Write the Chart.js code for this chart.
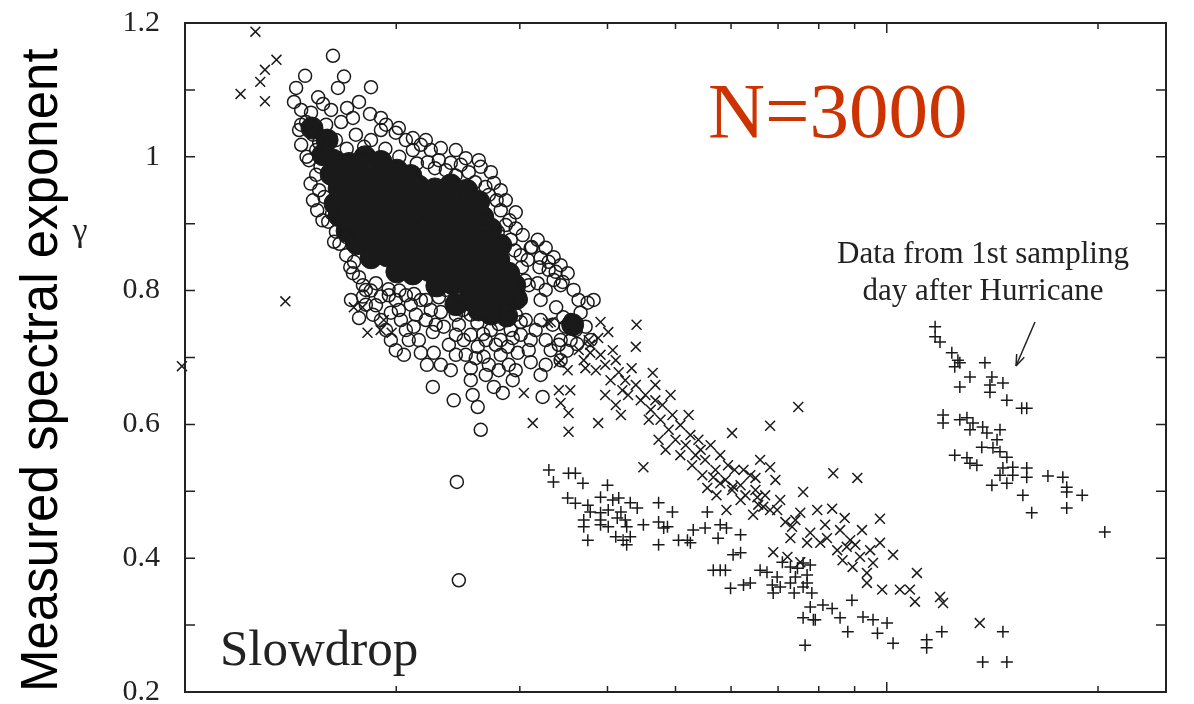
<!DOCTYPE html>
<html>
<head>
<meta charset="utf-8">
<script src="https://cdn.jsdelivr.net/npm/chart.js@4.4.1/dist/chart.umd.min.js"></script>
<style>
  body { margin: 0; background: #fff; }
  #wrap { width: 1194px; height: 704px; position: relative; }
</style>
</head>
<body>
<div id="wrap"><canvas id="scatter"></canvas></div>
<script>
// open circles (x on log axis, gamma)
var circles = [
  [1.625,1.151],[1.483,1.121],[1.685,1.120],[1.652,1.103],[1.841,1.104],[1.440,1.103],[1.770,1.082],[1.835,1.064],
  [1.430,1.082],[1.548,1.089],[1.464,1.070],[1.512,1.066],[1.573,1.079],[1.615,1.070],[1.702,1.073],[1.735,1.058],
  [1.669,1.052],[1.488,1.052],[1.454,1.040],[1.522,1.033],[1.464,1.018],[1.553,1.021],[1.502,0.995],[1.538,0.973],
  [1.553,0.950],[1.522,0.935],[1.543,0.920],[1.600,0.903],[1.641,0.888],[1.631,0.873],[1.697,0.853],[1.741,0.843],
  [1.735,0.826],[1.793,0.808],[1.902,0.791],[1.793,0.791],[1.871,0.811],[1.934,1.048],[1.997,1.036],[1.902,1.040],
  [2.064,1.025],[2.168,1.018],[2.240,1.010],[2.218,0.992],[2.300,0.995],[2.392,0.991],[2.472,0.988],[2.537,0.977],
  [2.639,0.985],[2.755,0.961],[2.710,0.943],[2.818,0.920],[2.865,0.898],[2.960,0.893],[2.912,0.876],[3.009,0.853],
  [3.079,0.846],[3.181,0.876],[3.266,0.864],[3.352,0.850],[3.430,0.838],[3.510,0.826],[3.298,0.831],[3.579,0.801],
  [3.430,0.808],[3.638,0.786],[3.747,0.782],[3.662,0.767],[3.544,0.756],[3.603,0.741],[3.487,0.746],[3.723,0.746],
  [3.544,0.726],[3.784,0.726],[3.430,0.726],[3.822,0.786],[3.266,0.801],[3.352,0.816],[3.212,0.786],[3.181,0.811],
  [1.965,0.767],[2.031,0.756],[2.118,0.746],[2.204,0.756],[2.337,0.746],[2.432,0.764],[2.496,0.726],[2.613,0.716],
  [2.664,0.701],[2.773,0.719],[2.883,0.716],[2.979,0.707],[3.109,0.726],[3.059,0.756],[3.212,0.756],[1.965,0.726],
  [2.168,0.707],[2.262,0.707],[2.392,0.681],[2.255,0.656],[2.415,0.636],[2.570,0.644],[2.613,0.626],[2.755,0.656],
  [2.837,0.647],[3.233,0.641],[2.639,0.592],[2.440,0.514],[2.456,0.367],[1.810,0.779],[1.853,0.764],[1.724,0.786],
  [1.770,0.759],[1.902,0.756],[1.997,0.786],[2.098,0.779],[2.240,0.771],[2.353,0.801],[2.554,0.764],[2.728,0.741],
  [2.912,0.741],[3.009,0.734],[2.800,0.681],[2.710,0.689],[3.320,0.711],[3.430,0.696],[3.266,0.689],[2.554,0.666],
  [2.315,0.689],[2.084,0.726],[2.112,1.010],[2.353,0.980],[2.692,0.906],[2.791,0.888],[3.089,0.808],[3.009,0.786],
  [2.818,0.704],[2.960,0.681],[2.168,0.786],[2.277,0.749],[2.432,0.734],[2.512,0.704],[2.865,0.771],[1.934,0.741],
  [2.051,0.704],[2.960,0.764],[1.589,1.048],[1.538,1.010],[1.641,1.025],[1.752,1.033],[1.841,1.025],[1.464,1.048],
  [1.49,1.000],[1.51,0.960],[1.56,0.985],[1.58,0.940],[1.57,0.905],[1.62,0.915],[1.66,0.870],[1.70,0.880],
  [1.72,0.835],[1.77,0.820],[1.84,0.800],[1.95,0.802],[2.02,0.800],[2.12,0.795],[2.30,0.790],[2.47,0.790],
  [2.61,0.752],[2.66,0.735],[2.80,0.750],[2.98,0.790],[3.05,0.815],[3.02,0.835],[2.95,0.860],[2.90,0.905],
  [2.78,0.935],[2.68,0.955],[2.59,0.962],[2.43,0.972],[2.27,0.983],[2.14,0.990],[2.02,1.000],[1.93,1.012],
  [1.80,1.015],[1.70,1.012],[3.12,0.865],[3.20,0.835],[3.38,0.775],[3.46,0.760],[3.62,0.720],[3.50,0.710],
  [1.81,0.801],[1.871,0.778],[1.952,0.793],[2.017,0.771],[2.064,0.793],[2.133,0.764],[2.204,0.786],[2.255,0.738],
  [2.315,0.768],[2.377,0.719],[2.456,0.749],[2.488,0.771],[2.554,0.734],[2.596,0.699],[2.683,0.726],[2.746,0.759],
  [2.818,0.726],[2.893,0.689],[2.931,0.729],[3.009,0.753],[3.089,0.711],[3.160,0.741],[3.266,0.726],[3.341,0.749],
  [3.408,0.719],[2.064,0.741],[2.154,0.726],[1.997,0.711],[2.212,0.689],[2.432,0.704],[2.554,0.684],[2.683,0.674],
  [2.931,0.666],[3.109,0.693],[3.212,0.674],
  [1.902,1.058],[2.017,1.043],[2.112,1.028],[2.204,1.025],[2.315,1.013],[2.432,1.010],[2.512,0.998],[2.622,0.995],
  [2.728,0.977],[2.818,0.950],[2.865,0.935],[2.960,0.917],[3.029,0.883],[3.109,0.864],[3.212,0.849],[3.298,0.843],
  [3.375,0.828],[3.453,0.813]
];

// circles in the saturated core of the cluster
var coreCircles = [
  [1.625,0.995],[1.713,0.990],[1.805,1.000],[1.902,0.993],[2.004,0.980],
  [1.615,0.974],[1.702,0.978],[1.793,0.970],[1.890,0.976],[1.991,0.969],[2.098,0.972],
  [1.658,0.953],[1.747,0.957],[1.841,0.950],[1.940,0.955],[2.044,0.951],[2.154,0.956],[2.270,0.952],[2.392,0.958],[2.521,0.950],
  [1.636,0.930],[1.724,0.934],[1.817,0.929],[1.915,0.936],[2.017,0.931],[2.126,0.935],[2.240,0.930],[2.361,0.934],[2.488,0.929],[2.622,0.933],
  [1.658,0.912],[1.747,0.908],[1.841,0.914],[1.940,0.910],[2.044,0.915],[2.154,0.909],[2.270,0.913],[2.392,0.908],[2.521,0.914],[2.657,0.910],
  [1.702,0.889],[1.793,0.893],[1.890,0.888],[1.991,0.892],[2.098,0.887],[2.212,0.893],[2.330,0.890],[2.456,0.894],[2.588,0.888],[2.728,0.892],
  [1.758,0.870],[1.853,0.866],[1.952,0.872],[2.057,0.868],[2.168,0.873],[2.285,0.867],[2.408,0.871],[2.537,0.866],[2.674,0.872],[2.818,0.868],
  [1.841,0.849],[1.940,0.852],[2.044,0.846],[2.154,0.851],[2.270,0.847],[2.392,0.852],[2.521,0.848],[2.657,0.851],[2.800,0.846],
  [2.004,0.828],[2.112,0.825],[2.226,0.830],[2.346,0.826],[2.472,0.831],[2.605,0.827],[2.746,0.830],[2.893,0.826],
  [2.285,0.807],[2.408,0.810],[2.537,0.805],[2.674,0.809],[2.818,0.804],[2.950,0.808],
  [2.554,0.786],[2.692,0.789],[2.837,0.784],[2.965,0.788],
  [2.728,0.765],[2.874,0.762],
  [1.517,1.043],[1.594,1.025],[1.573,1.003],[3.568,0.749],[2.432,0.779],[2.622,0.771]
];

// x markers
var crosses = [
  [1.26,1.187],[1.35,1.145],[1.30,1.130],[1.28,1.112],[1.20,1.094],[1.30,1.083],[0.99,0.687],[1.39,0.784],
  [1.74,0.775],[1.79,0.775],[1.82,0.737],[1.90,0.741],[1.92,0.756],[1.97,0.737],
  [3.29,0.752],[3.41,0.692],[3.51,0.681],[3.04,0.647],[3.41,0.651],[3.54,0.651],[3.32,0.753],[3.54,0.738],
  [3.91,0.753],[4.01,0.738],[4.40,0.749],[4.39,0.716],[3.52,0.617],[3.52,0.589],[3.88,0.602],[3.43,0.696],
  [3.70,0.696],[3.78,0.707],[4.64,0.677],[3.43,0.632],[3.13,0.602],
  [3.64,0.711],[3.72,0.684],[3.78,0.719],[3.85,0.681],[3.91,0.704],[3.97,0.689],[4.04,0.666],[4.11,0.696],
  [4.15,0.678],[4.20,0.651],[4.24,0.666],[4.28,0.644],[4.33,0.684],[4.39,0.659],[4.46,0.636],[3.76,0.726],
  [3.88,0.729],[4.07,0.711],[3.97,0.644],[4.11,0.629],[4.18,0.614],
  [4.53,0.644],[4.61,0.622],[4.68,0.636],[4.76,0.607],[4.79,0.629],[4.89,0.592],[4.95,0.614],[5.00,0.577],
  [5.08,0.599],[5.17,0.569],[5.25,0.584],[5.34,0.554],[5.39,0.577],[4.58,0.607],[4.73,0.577],[4.84,0.562],
  [5.08,0.554],[5.28,0.539],[4.50,0.536],[4.68,0.659],[4.92,0.644],[5.22,0.614],
  [5.43,0.562],[5.51,0.547],[5.61,0.569],[5.70,0.532],[5.79,0.554],[5.89,0.517],[5.94,0.539],[6.02,0.502],
  [6.07,0.532],[6.19,0.509],[6.29,0.494],[6.39,0.524],[6.50,0.502],[6.56,0.480],[5.66,0.521],[5.55,0.505],
  [5.79,0.512],[6.04,0.507],[6.25,0.532],[6.50,0.520],[6.82,0.536],[6.02,0.587],[6.60,0.547],[5.91,0.472],
  [6.19,0.487],[6.45,0.465],[6.67,0.477],[6.54,0.491],[5.46,0.524],[5.72,0.494],
  [6.71,0.494],[6.82,0.472],[6.98,0.472],[7.05,0.487],[7.17,0.454],[7.29,0.430],[7.33,0.447],[7.53,0.468],
  [7.60,0.499],[7.70,0.423],[7.78,0.438],[7.96,0.472],[6.89,0.409],[7.22,0.402],[7.53,0.394],[7.48,0.626],
  [6.82,0.598],[6.94,0.517],[7.41,0.457],
  [8.04,0.423],[8.22,0.430],[8.36,0.474],[8.50,0.412],[8.65,0.397],[8.71,0.460],[8.77,0.417],[8.94,0.387],
  [9.16,0.402],[9.22,0.442],[9.37,0.378],[9.37,0.363],[9.56,0.393],[9.78,0.459],[9.78,0.423],[8.39,0.527],
  [9.08,0.520],[10.21,0.405],[8.17,0.450],[8.87,0.427],[8.58,0.442],[9.02,0.420],[9.47,0.412],
  [9.85,0.353],[10.44,0.353],[10.79,0.353],[10.97,0.335],[11.04,0.378],[11.91,0.342],[12.03,0.333],[13.57,0.303]
];

// + markers
var pluses = [
  [3.30,0.532],[3.35,0.514],[3.52,0.527],[3.60,0.527],[3.69,0.512],[4.00,0.509],[3.51,0.490],[3.60,0.482],
  [3.75,0.479],[3.91,0.491],[4.07,0.487],[4.15,0.490],[3.78,0.469],[3.91,0.468],[4.01,0.472],[4.18,0.469],
  [4.31,0.483],[4.41,0.475],[3.70,0.457],[3.91,0.457],[4.13,0.460],[4.24,0.457],[3.70,0.447],[3.91,0.450],
  [4.01,0.447],[4.26,0.447],[4.50,0.450],[4.73,0.454],[4.87,0.447],[3.75,0.427],[4.11,0.432],[4.21,0.427],
  [4.31,0.432],[4.26,0.420],[4.73,0.420],[4.73,0.483],[4.95,0.469],[5.55,0.469],[4.81,0.445],[5.05,0.427],
  [5.20,0.427],[5.25,0.423],[5.30,0.442],[5.51,0.445],[5.79,0.450],[5.91,0.445],[6.19,0.435],[5.75,0.430],
  [6.04,0.405],[6.19,0.408],[5.66,0.382],[5.79,0.382],[5.89,0.382],[5.99,0.355],[6.25,0.360],[6.39,0.363],
  [6.75,0.379],[6.98,0.372],[7.05,0.357],[7.29,0.363],[7.70,0.375],[6.89,0.348],[7.38,0.348],[7.60,0.357],
  [7.78,0.327],[7.60,0.311],[7.86,0.308],[7.65,0.270],[7.10,0.394],[7.29,0.387],[7.46,0.385],[7.60,0.393],
  [6.60,0.382],[6.87,0.360],[7.41,0.372],[7.78,0.390],[7.70,0.363],[7.82,0.348],[8.11,0.330],[8.36,0.325],
  [8.58,0.311],[8.92,0.337],[7.91,0.308],[8.80,0.290],[9.25,0.312],[9.56,0.308],[10.01,0.303],[9.70,0.288],
  [10.21,0.273],[11.40,0.278],[11.40,0.266],[11.98,0.290],[13.70,0.245],[14.64,0.290],[14.83,0.245],
  [11.72,0.746],[11.72,0.731],[11.91,0.723],[12.38,0.707],[12.63,0.696],[12.71,0.692],[12.50,0.686],[13.14,0.671],
  [12.71,0.656],[13.80,0.692],[14.12,0.671],[14.03,0.659],[14.64,0.662],[14.03,0.648],[14.83,0.636],[15.57,0.624],
  [15.83,0.624],[12.03,0.614],[12.03,0.602],[12.71,0.607],[13.01,0.610],[13.27,0.602],[13.14,0.592],[13.70,0.596],
  [13.89,0.587],[14.50,0.592],[14.36,0.577],[13.66,0.566],[14.17,0.565],[14.50,0.559],[14.83,0.551],[12.50,0.554],
  [13.01,0.550],[13.14,0.542],[13.44,0.539],[14.64,0.535],[15.12,0.536],[14.50,0.524],[15.83,0.535],[15.12,0.524],
  [15.83,0.521],[16.97,0.523],[17.82,0.521],[14.12,0.509],[14.83,0.512],[18.05,0.506],[18.05,0.499],[18.99,0.494],
  [15.63,0.494],[16.09,0.468],[18.05,0.475],[20.45,0.439]
];

var xTickValues = [2, 3, 4, 5, 6, 7, 8, 9, 10, 20];
var yMinorTicks = [0.3, 0.4, 0.5, 0.6, 0.7, 0.8, 0.9, 1.0, 1.1];

function toPoints(arr) {
    return arr.map(function(p) { return {x: p[0], y: p[1]}; });
}

var ink = '#1a1a1a';

// frame, inward ticks and the text annotations
var frameAndText = {
    id: 'frameAndText',
    afterDraw: function(chart) {
        var ctx = chart.ctx;
        var a = chart.chartArea;
        var xs = chart.scales.x, ys = chart.scales.y;
        ctx.save();
        ctx.strokeStyle = '#222';
        ctx.lineWidth = 1.5;
        ctx.beginPath();
        yMinorTicks.forEach(function(v) {
            var py = ys.getPixelForValue(v);
            ctx.moveTo(a.left, py); ctx.lineTo(a.left + 10, py);
            ctx.moveTo(a.right, py); ctx.lineTo(a.right - 10, py);
        });
        xTickValues.forEach(function(v) {
            var px = xs.getPixelForValue(v);
            var len = v === 10 ? 10 : 6;
            ctx.moveTo(px, a.bottom); ctx.lineTo(px, a.bottom - len);
            ctx.moveTo(px, a.top); ctx.lineTo(px, a.top + len);
        });
        ctx.stroke();
        ctx.lineWidth = 2;
        ctx.strokeRect(a.left, a.top, a.right - a.left, a.bottom - a.top);

        ctx.fillStyle = '#222';
        ctx.textBaseline = 'middle';
        ctx.textAlign = 'center';
        ctx.font = '34px "Liberation Serif", serif';
        ctx.fillText('\u03b3', 80, 232);

        ctx.textBaseline = 'alphabetic';
        ctx.textAlign = 'left';
        ctx.font = '51px "Liberation Serif", serif';
        ctx.fillText('Slowdrop', 220, 665);

        ctx.fillStyle = '#cc3300';
        ctx.font = '79px "Liberation Serif", serif';
        ctx.fillText('N=3000', 708, 137);

        ctx.fillStyle = '#222';
        ctx.textAlign = 'center';
        ctx.font = '31px "Liberation Serif", serif';
        ctx.fillText('Data from 1st sampling', 983, 263);
        ctx.fillText('day after Hurricane', 983, 300);

        // arrow
        ctx.lineWidth = 1.5;
        ctx.beginPath();
        ctx.moveTo(1035, 322);
        ctx.lineTo(1016, 366);
        ctx.stroke();
        var ang = Math.atan2(366 - 322, 1016 - 1035);
        ctx.beginPath();
        ctx.moveTo(1016, 366);
        ctx.lineTo(1016 - 12 * Math.cos(ang - 0.35), 366 - 12 * Math.sin(ang - 0.35));
        ctx.moveTo(1016, 366);
        ctx.lineTo(1016 - 12 * Math.cos(ang + 0.35), 366 - 12 * Math.sin(ang + 0.35));
        ctx.stroke();
        ctx.restore();
    }
};

var ctx = document.getElementById('scatter').getContext('2d');
window.myScatter = new Chart(ctx, {
    type: 'scatter',
    data: {
        datasets: [{
            label: 'x',
            data: toPoints(crosses),
            pointStyle: 'crossRot',
            pointRadius: 7,
            borderColor: ink,
            borderWidth: 1.5,
            clip: false
        }, {
            label: '+',
            data: toPoints(pluses),
            pointStyle: 'cross',
            pointRadius: 6,
            borderColor: ink,
            borderWidth: 1.5
        }, {
            label: 'o',
            data: toPoints(circles),
            pointStyle: 'circle',
            pointRadius: 6.5,
            backgroundColor: 'rgba(0,0,0,0)',
            borderColor: ink,
            borderWidth: 1.5
        }, {
            label: 'o core',
            data: toPoints(coreCircles),
            pointStyle: 'circle',
            pointRadius: 11,
            backgroundColor: ink,
            borderColor: ink,
            borderWidth: 1
        }]
    },
    options: {
        responsive: true,
        maintainAspectRatio: false,
        animation: false,
        events: [],
        layout: {
            padding: {left: 0, top: 23, right: 28, bottom: 12}
        },
        plugins: {
            legend: {display: false},
            tooltip: {enabled: false}
        },
        scales: {
            x: {
                type: 'logarithmic',
                min: 1,
                max: 25,
                display: false
            },
            y: {
                min: 0.2,
                max: 1.2,
                grid: {display: false},
                border: {display: false},
                ticks: {
                    stepSize: 0.2,
                    padding: 17,
                    color: '#222',
                    font: {family: 'Liberation Serif', size: 30},
                    callback: function(v) { return String(+v.toFixed(1)); }
                },
                title: {
                    display: true,
                    text: 'Measured spectral exponent',
                    align: 'start',
                    color: '#000',
                    font: {family: 'Liberation Sans', size: 51},
                    padding: {top: 12, bottom: 0}
                },
                afterFit: function(scale) {
                    scale.width = 185;
                    scale.paddingTop = 0;
                    scale.paddingBottom = 0;
                }
            }
        }
    },
    plugins: [frameAndText]
});
</script>
</body>
</html>
